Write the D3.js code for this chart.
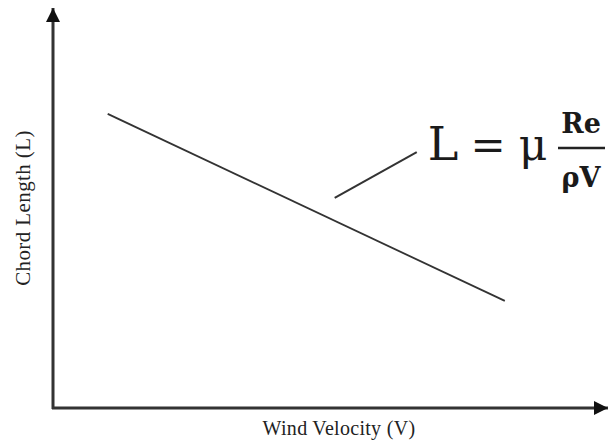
<!DOCTYPE html>
<html>
<head>
<meta charset="utf-8">
<script src="https://cdn.jsdelivr.net/npm/d3@7"></script>
<style>
  body { margin: 0; background: #fff; }
  svg text { font-family: "Liberation Serif", "DejaVu Serif", serif; fill: #222; }
  svg .eq { font-family: "DejaVu Serif", serif; fill: #1a1a1a; }
</style>
</head>
<body>
<div id="chart"></div>
<script>
// chord length falls as wind velocity rises
var velocity = [1.0, 8.26];
var chord = [7.39, 2.69];
// short leader line pointing at the curve, in data units
var leaderX = [5.15, 6.65];
var leaderY = [5.28, 6.43];
var xTitle = "Wind Velocity (V)";
var yTitle = "Chord Length (L)";

var width = 610, height = 445;
var margin = {top: 10, right: 10, bottom: 37, left: 53};

var svg = d3.select("#chart")
    .append("svg")
    .attr("width", width)
    .attr("height", height);

var x = d3.scaleLinear()
    .domain([0, 10])
    .range([margin.left, width - margin.right]);
var y = d3.scaleLinear()
    .domain([0, 10])
    .range([height - margin.bottom, margin.top]);

var defs = svg.append("defs");
defs.append("marker")
    .attr("id", "arrow")
    .attr("viewBox", "0 0 10 10")
    .attr("refX", 10)
    .attr("refY", 5)
    .attr("markerWidth", 16)
    .attr("markerHeight", 14)
    .attr("markerUnits", "userSpaceOnUse")
    .attr("orient", "auto")
    .append("path")
    .attr("d", "M0,0L10,5L0,10Z")
    .attr("fill", "#111");

var x0 = x(0), y0 = y(0);
// axes with arrow heads
svg.append("line")
    .attr("x1", x0 - 1).attr("y1", y0)
    .attr("x2", width - 2).attr("y2", y0)
    .attr("stroke", "#333")
    .attr("stroke-width", 3)
    .attr("marker-end", "url(#arrow)");
svg.append("line")
    .attr("x1", x0).attr("y1", y0 + 1)
    .attr("x2", x0).attr("y2", 8)
    .attr("stroke", "#333")
    .attr("stroke-width", 3)
    .attr("marker-end", "url(#arrow)");

var line = d3.line()
    .x(function(d) { return x(d[0]); })
    .y(function(d) { return y(d[1]); });

svg.append("path")
    .datum(d3.zip(velocity, chord))
    .attr("d", line)
    .attr("fill", "none")
    .attr("stroke", "#333")
    .attr("stroke-width", 1.8);

svg.append("path")
    .datum(d3.zip(leaderX, leaderY))
    .attr("d", line)
    .attr("fill", "none")
    .attr("stroke", "#333")
    .attr("stroke-width", 2);

// equation L = mu Re / (rho V)
var eq = svg.append("g");
function eqText(cx, cy, size, str, weight) {
    return eq.append("text")
        .attr("class", "eq")
        .attr("x", cx).attr("y", cy)
        .attr("text-anchor", "middle")
        .style("font-size", size + "px")
        .style("font-weight", weight || "normal")
        .text(str);
}
eqText(443, 160, 46, "L");
eqText(488, 160, 42, "=");
eqText(533, 160, 44, "μ");
eq.append("line")
    .attr("x1", 558).attr("y1", 148)
    .attr("x2", 605).attr("y2", 148)
    .attr("stroke", "#222")
    .attr("stroke-width", 2.5);
eqText(581, 133, 27, "Re", "bold");
eqText(581, 187, 27, "ρV", "bold");

svg.append("text")
    .attr("x", 339).attr("y", 435)
    .attr("text-anchor", "middle")
    .style("font-size", "20px")
    .style("letter-spacing", "0.3px")
    .text(xTitle);
svg.append("text")
    .attr("transform", "translate(30,208) rotate(-90)")
    .attr("text-anchor", "middle")
    .style("font-size", "21px")
    .style("letter-spacing", "0.4px")
    .text(yTitle);
</script>
</body>
</html>
